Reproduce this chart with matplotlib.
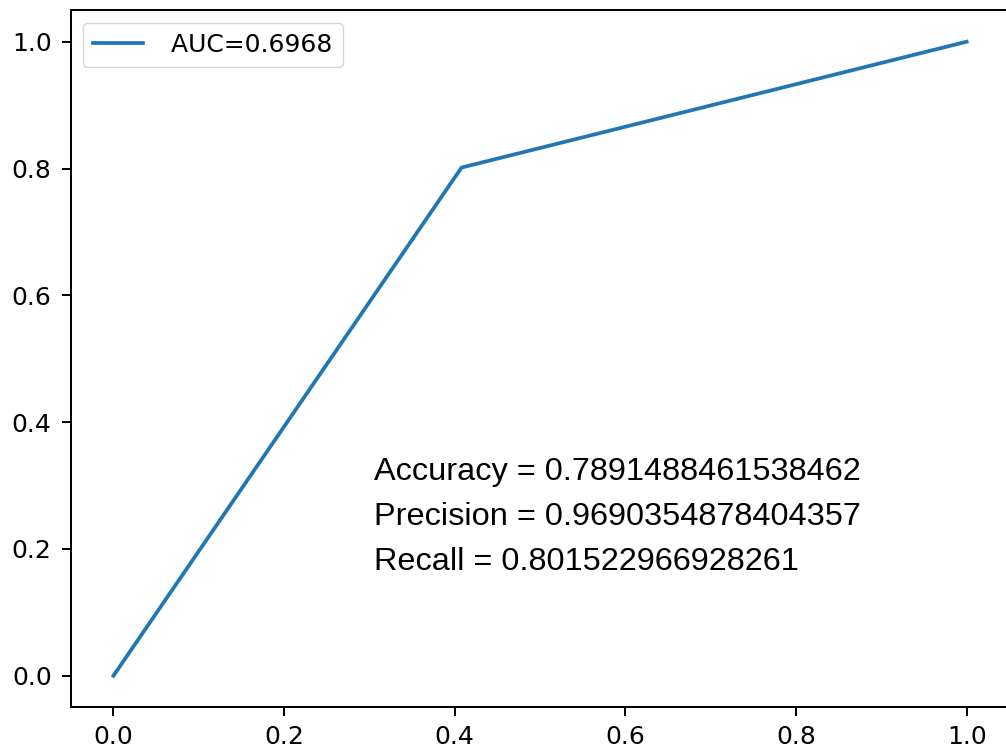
import numpy as np
import matplotlib
matplotlib.use("Agg")
import matplotlib.pyplot as plt

# ROC points
fpr = [0.0, 0.408, 1.0]
tpr = [0.0, 0.8015, 1.0]
auc = 0.6968
accuracy = "0.7891488461538462"
precision = "0.9690354878404357"
recall = "0.801522966928261"

s = 1.8  # the picture is a scaled-up default figure
fig = plt.figure(figsize=(10.06, 7.51), dpi=100)
ax = fig.add_axes([70.8 / 1006, 43.6 / 751, 938.5 / 1006, 697.4 / 751])

ax.plot(fpr, tpr, color="#1f77b4", lw=1.5 * s, label=" AUC=%0.4f" % auc)
ax.legend(loc="upper left", fontsize=10 * s)

# baseline of the last line sits at y~0.165
ax.text(0.305, 0.166,
        "Accuracy = " + accuracy + "\nPrecision = " + precision + "\nRecall = " + recall,
        family="Liberation Sans", fontsize=23.4, va="baseline", linespacing=1.66)

for sp in ax.spines.values():
    sp.set_linewidth(0.8 * s)
ax.tick_params(labelsize=10 * s, length=3.5 * s, width=0.8 * s)
ax.tick_params(axis="y", pad=7.5)
ax.tick_params(axis="x", pad=3.5 * s)
ax.set_xticks(np.arange(0, 1.01, 0.2))
ax.set_yticks(np.arange(0, 1.01, 0.2))

fig.savefig("out.png", dpi=100)
